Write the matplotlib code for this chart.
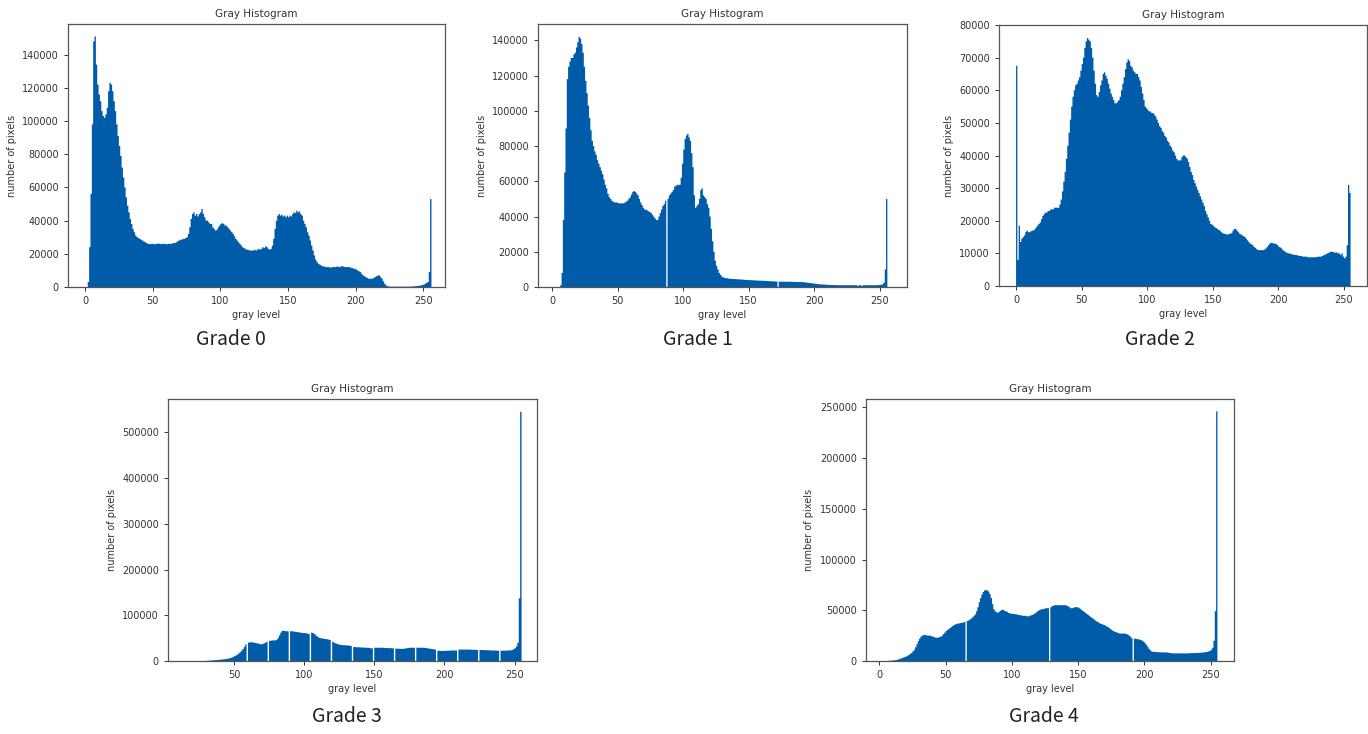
'''
Gray histograms of five grades, recreated with matplotlib
'''

import numpy as np
import matplotlib
matplotlib.use('Agg')
import matplotlib.pyplot as plt

# gray levels 0..255, counts in thousands of pixels
levels = np.arange(256)

grade0_k = [
    0, 0, 3, 24, 56, 98, 148, 151, 134, 122,
    116, 112, 106, 103, 102, 104, 108, 118, 123, 122,
    118, 112, 106, 98, 91, 85, 79, 72, 66, 60,
    54, 49, 45, 41, 38, 35, 33, 31, 30, 29.5,
    29, 28.5, 28, 27.5, 27, 26.5, 26, 26, 25.8, 26,
    26, 25.7, 26, 26, 26.2, 26, 25.8, 26, 26, 26,
    25.7, 26, 26, 26, 26.2, 26.5, 26.5, 27, 27.5, 28,
    28.5, 28.5, 29, 29, 29.5, 30, 32, 36, 41, 44,
    45, 43, 44, 42.5, 44, 45, 47, 44, 42, 40,
    40, 39, 38, 38, 36, 35, 34, 34.5, 36, 37,
    38, 38.5, 38, 37, 37, 36, 35, 34, 33, 32,
    30.5, 29, 28, 27, 26, 25, 24, 23.5, 23, 22.5,
    22.5, 22, 22, 22, 22, 22.5, 22, 22.5, 23, 22.5,
    23, 24, 23.5, 24.5, 24, 23, 22.5, 23, 25, 29,
    35, 40, 43, 44, 43, 43.5, 42.5, 43, 42, 43,
    42, 43, 42.5, 44, 45, 44.5, 46, 45, 45.5, 44,
    43, 40, 38, 36, 33, 31, 28, 25, 22, 19,
    16.5, 15, 14, 13.5, 13, 12.5, 12.5, 12, 12, 12,
    12, 11.5, 12, 12, 12, 12, 12.5, 12, 12, 12.5,
    12.5, 12, 12, 12, 12, 12, 11.5, 11.5, 11, 11,
    10.5, 10, 9.5, 9, 8, 7, 6.5, 6, 5.5, 5,
    5, 5, 5, 5.5, 6, 6.5, 7, 7, 6, 5,
    3.5, 2, 1, 0.5, 0.3, 0.2, 0.2, 0.2, 0.2, 0.2,
    0.2, 0.2, 0.2, 0.2, 0.2, 0.2, 0.2, 0.2, 0.2, 0.2,
    0.3, 0.3, 0.3, 0.4, 0.5, 0.6, 0.7, 0.8, 1.0, 1.2,
    1.5, 2, 2.5, 3, 9, 53,
]

grade1_k = [
    0, 0, 0, 0, 0, 0, 1, 8, 38, 65,
    90, 118, 125, 128, 130, 130, 132, 133, 136, 139,
    142, 141, 138, 133, 125, 117, 110, 103, 96, 89,
    83, 80, 77, 75, 72, 70, 68, 66, 64, 61,
    58, 56, 53, 51, 50, 49, 48.5, 48, 48, 48,
    47.5, 47.5, 47.5, 47.5, 47.5, 48, 48.5, 49, 50, 51,
    52.5, 54, 54.5, 54, 53, 52, 50, 48, 46.5, 45,
    44, 44, 43.5, 43, 42.5, 42, 41, 40, 39, 38,
    38, 40, 42, 44, 46, 47, 49, 0, 50, 52,
    53, 54, 55, 57, 57.5, 58, 58, 58, 62, 70,
    78, 84, 86, 87, 85, 83, 76, 68, 52, 45,
    46, 47, 50, 55, 56, 52, 51, 50, 47, 45,
    40, 33, 26, 20, 15, 12, 10, 8, 7, 6,
    5.5, 5.2, 5, 5, 4.8, 4.7, 4.6, 4.6, 4.5, 4.5,
    4.4, 4.4, 4.3, 4.3, 4.2, 4.2, 4.1, 4, 4, 4,
    3.9, 3.9, 3.8, 3.8, 3.8, 3.7, 3.7, 3.6, 3.6, 3.6,
    3.5, 3.5, 3.5, 3.4, 3.4, 3.3, 3.3, 3.2, 3.2, 3.2,
    3.1, 3.1, 0, 3, 3, 3, 3, 3, 3, 3,
    3, 3, 3, 2.9, 2.9, 2.9, 2.9, 2.8, 2.8, 2.8,
    2.8, 2.7, 2.7, 2.6, 2.5, 2.4, 2.3, 2.2, 2.1, 2,
    1.9, 1.8, 1.7, 1.6, 1.5, 1.5, 1.4, 1.4, 1.3, 1.3,
    1.2, 1.2, 1.2, 1.1, 1.1, 1.1, 1.1, 1, 1, 1,
    1, 1, 1, 1, 1, 1, 1, 1, 1, 1,
    1, 1, 1, 0.5, 1, 1, 0.5, 1, 1, 1,
    1, 1, 1, 1, 1, 1, 1, 1, 1, 1.1,
    1.2, 1.3, 1.5, 2.5, 10, 50,
]

grade2_k = [
    67.5, 8, 18.5, 13.5, 14.5, 15, 15.5, 16.5, 17, 16.5,
    16.5, 16.8, 17, 17, 17.5, 18, 18.5, 19, 19.5, 20.5,
    21.5, 22, 22.5, 22.5, 23, 23, 23.5, 23.5, 23.5, 24,
    24, 24, 24, 25, 26.5, 29, 32, 35, 39, 43,
    47, 51, 55, 58, 60, 61.5, 62, 63, 64, 66,
    68, 70, 73, 75, 76, 75.5, 75, 73, 70, 66,
    62, 58.5, 58, 59.5, 61.5, 63, 65, 65.5, 64.5, 63.5,
    62, 60.5, 59, 58, 57, 56, 56, 56.5, 57, 58,
    60, 62, 64, 66.5, 68.5, 69.5, 69, 67.5, 67, 66,
    65.5, 65, 65, 64, 63, 61, 59, 57, 55, 54.5,
    54, 53.5, 53.5, 53, 53, 52.5, 52, 51, 50, 49,
    48.5, 47.5, 47, 46, 45.5, 44.5, 44, 43, 42.5, 41.5,
    41, 40, 39, 38.5, 38.5, 38.5, 39.5, 40, 40, 39.5,
    39, 38, 36.5, 35, 34, 32.5, 31.5, 30.5, 29.5, 28.5,
    27.5, 26.5, 25.5, 24.5, 23, 22, 21, 20, 19, 18.8,
    18.5, 18, 17.8, 17.5, 17.2, 17, 16.5, 16.2, 16, 16,
    15.8, 15.8, 16, 16, 16.3, 17, 17.5, 17.5, 17, 16.5,
    16, 15.8, 15.5, 15.3, 15, 14.5, 14, 13.5, 13, 12.8,
    12.5, 12, 11.7, 11.3, 11, 11, 11, 11, 11, 11.2,
    11.5, 12, 12.5, 13, 13.2, 13.2, 13, 13, 12.8, 12.5,
    12, 11.8, 11.5, 11, 10.7, 10.4, 10.2, 10, 10, 9.8,
    9.7, 9.6, 9.5, 9.5, 9.4, 9.3, 9.2, 9.2, 9, 9,
    9, 9, 8.8, 8.8, 8.8, 8.8, 8.8, 8.8, 8.8, 8.9,
    9, 9, 9, 9.2, 9.4, 9.6, 9.8, 10, 10.2, 10.5,
    10.5, 10.5, 10.3, 10.2, 10.3, 10, 10, 9.5, 10, 9,
    8.5, 9, 12.5, 31, 28.5, 0,
]

grade3_k = [
    0, 0, 0, 0, 0, 0, 0, 0, 0, 0,
    0, 0, 0, 0, 0, 0, 0, 0, 0, 0,
    0, 0, 0, 0, 0, 0, 0, 0, 0, 0,
    0.3, 0.5, 0.8, 1, 1.2, 1.5, 1.8, 2, 2.3, 2.5,
    3, 3.2, 3.5, 4, 4.5, 5, 5.5, 6.5, 7.5, 9,
    10.5, 12, 14, 16.5, 19, 22, 26, 31, 36, 0,
    40, 41, 41, 40.5, 40, 39.5, 38.5, 38, 37, 36.5,
    37, 38.5, 40, 42, 0, 44, 44.5, 45, 45, 45,
    46, 50, 56, 62, 66, 66, 65.5, 65, 65, 0,
    65, 65, 64.5, 64, 63.5, 63, 62.5, 62, 61.5, 61,
    61, 60.5, 60, 59, 0, 62, 61, 59, 56, 53.5,
    51.5, 50, 49.5, 49, 48.5, 48, 47.5, 47, 46, 0,
    42, 40, 38.5, 37.5, 36.5, 35.5, 35, 34.5, 34.5, 34.5,
    34, 34, 33.5, 33, 0, 30.5, 30.5, 30, 30, 30,
    29.5, 29.5, 29.5, 29, 29, 29, 28.5, 28, 27.5, 0,
    29, 29, 29, 29, 29, 29, 29, 28.5, 28.5, 28.5,
    28, 28, 28, 27.5, 0, 27, 27, 27, 26.5, 26.5,
    26.5, 27, 27.5, 28, 28.5, 29, 29, 29, 29, 0,
    29, 29, 29, 29, 29, 29, 28.5, 28, 27.5, 27,
    26.5, 26, 25.5, 25, 0, 22.5, 22, 22, 22, 22,
    22, 22.5, 22.5, 22.5, 23, 23, 23, 23, 23, 0,
    25, 25, 25, 25, 25, 25, 25, 25, 25, 24.5,
    24.5, 24.5, 24.5, 24, 0, 24, 24, 24, 24, 23.5,
    23.5, 23.5, 23.5, 23, 23, 23, 23, 22.5, 22.5, 0,
    22.5, 22.5, 22.5, 22.5, 23, 23, 23, 23.5, 24, 26,
    28, 32, 40, 137, 545, 0,
]

grade4_k = [
    0, 0, 0, 0, 0, 0, 0.1, 0.2, 0.3, 0.4,
    0.5, 0.7, 0.9, 1.2, 1.5, 2, 2.5, 3, 3.5, 4,
    4.5, 5.2, 6, 7, 8, 9.5, 11, 13.5, 16.5, 19.5,
    22, 24, 25, 25.5, 25.5, 25.5, 25, 25, 25, 24.5,
    24, 23.5, 23, 23, 23, 23.5, 24, 25, 26.5, 28,
    29.5, 30.5, 31.5, 32.5, 33.5, 34.5, 35.5, 36, 36.5, 37,
    37, 37.5, 37.5, 38, 38.5, 0, 39.5, 40, 41, 42,
    43, 44.5, 46, 49, 53, 58, 62, 65.5, 68, 69.5,
    70, 69.5, 68.5, 66, 62, 56, 51, 49, 48, 47.5,
    48.5, 49.5, 50.5, 50.5, 49.5, 49, 48.5, 47.5, 47, 46.5,
    46.5, 46.5, 46, 46, 45.5, 45.5, 45, 45, 44.5, 44.5,
    44.5, 44, 44, 44.5, 45, 45.5, 46, 47, 48, 49,
    50, 50.5, 51, 51, 51.5, 52, 52, 52, 0, 53,
    54, 54.5, 55, 55, 55, 55, 55, 55, 55, 55,
    55, 54.5, 54, 53, 52, 52, 52.5, 53, 53, 53,
    52.5, 51.5, 50.5, 49.5, 48.5, 47.5, 46.5, 45.5, 44.5, 43.5,
    42.5, 41.5, 40.5, 39.5, 38.5, 38, 37, 36.5, 36, 35.5,
    35, 34, 33.5, 32.5, 31.5, 30.5, 29.5, 29, 28.5, 28,
    27.5, 27, 27, 27, 27, 27, 26.5, 26, 25, 24,
    22.5, 0, 22, 22, 21.5, 21.5, 21, 20.5, 20, 19,
    17.5, 16, 14, 12, 10.5, 9.5, 9, 9, 8.8, 8.8,
    8.6, 8.6, 8.5, 8.5, 8.5, 8.5, 8.5, 8.3, 8, 7.8,
    7.6, 7.5, 7.5, 7.5, 7.5, 7.5, 7.5, 7.5, 7.5, 7.5,
    7.5, 7.5, 7.5, 7.6, 7.7, 7.8, 7.8, 7.8, 7.8, 8,
    8, 8, 8.2, 8.3, 8.5, 8.5, 8.8, 9, 9.5, 10,
    11, 13, 20, 49, 246, 0,
]

grades = ['Grade 0', 'Grade 1', 'Grade 2', 'Grade 3', 'Grade 4']
counts_k = [grade0_k, grade1_k, grade2_k, grade3_k, grade4_k]

W, H = 1368, 734
# axes boxes in pixels: left, top, right, bottom
boxes = [(68, 24, 445, 287), (538, 24, 907, 287), (999, 25, 1367, 286),
         (168, 399, 537, 661), (866, 399, 1234, 661)]
xlims = [(-12.6, 266), (-11, 271), (-13, 267.5), (3, 266), (-10, 267.5)]
ylims = [158500, 149300, 80000, 573000, 258200]
# caption centers in pixels
captions = [(231, 340), (698, 340), (1160, 340), (347, 716), (1044, 716)]

BLUE = '#005ba9'

fig = plt.figure(figsize=(W / 100, H / 100), dpi=100)

for i in range(5):
    l, t, r, b = boxes[i]
    ax = fig.add_axes([l / W, 1 - b / H, (r - l) / W, (b - t) / H])
    weights = np.array(counts_k[i]) * 1000
    assert len(weights) == 256
    ax.hist(levels, bins=np.arange(257), weights=weights,
            histtype='stepfilled', color=BLUE, linewidth=0)
    ax.set_xlim(*xlims[i])
    ax.set_ylim(0, ylims[i])
    ax.set_title('Gray Histogram', fontsize=7.5, color='#333333', pad=5)
    ax.set_xlabel('gray level', fontsize=7, color='#333333', labelpad=3)
    ax.set_ylabel('number of pixels', fontsize=7, color='#333333', labelpad=4)
    ax.tick_params(labelsize=7, length=3, width=0.7, colors='#333333')
    for s in ax.spines.values():
        s.set_color('#555555')
        s.set_linewidth(0.9)

    cx, cy = captions[i]
    fig.text(cx / W, 1 - cy / H, grades[i], ha='center', va='center',
             fontsize=14, color='#222222',
             family=['Noto Sans CJK SC', 'DejaVu Sans'])

fig.savefig('out.png', dpi=100)
